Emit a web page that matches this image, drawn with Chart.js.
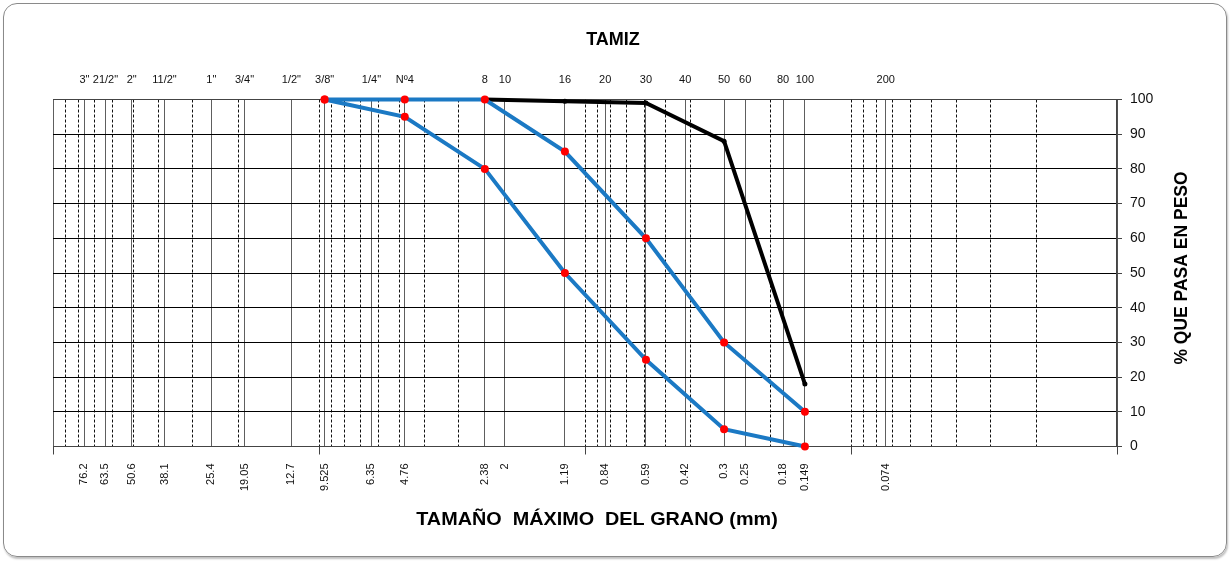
<!DOCTYPE html>
<html lang="es">
<head>
<meta charset="utf-8">
<title>Curva granulométrica</title>
<script src="https://cdn.jsdelivr.net/npm/chart.js@4.4.1/dist/chart.umd.min.js"></script>
<style>
  html, body { margin: 0; padding: 0; background: #ffffff; }
  #wrap { position: relative; width: 1231px; height: 562px; overflow: hidden; }
  #frame {
    position: absolute; left: 3px; top: 3px; width: 1222px; height: 552px;
    border: 1px solid #8a8a8a; border-radius: 14px;
    box-shadow: 1px 2px 2px rgba(0, 0, 0, 0.25);
    pointer-events: none;
  }
  #chart { position: absolute; left: 0; top: 0; }
</style>
</head>
<body>
<div id="wrap">
  <div id="frame"></div>
  <canvas id="chart" width="1231" height="562"></canvas>
</div>
<script>
// Sieve openings (mm), their names and the printed size labels
const sieveSizes = [76.2, 63.5, 50.6, 38.1, 25.4, 19.05, 12.7, 9.525, 6.35, 4.76, 2.38, 2.0, 1.19, 0.84, 0.59, 0.42, 0.3, 0.25, 0.18, 0.149, 0.074];
const sieveNames = ['3"', '21/2"', '2"', '11/2"', '1"', '3/4"', '1/2"', '3/8"', '1/4"', 'Nº4', '8', '10', '16', '20', '30', '40', '50', '60', '80', '100', '200'];
const sizeLabels = ['76.2', '63.5', '50.6', '38.1', '25.4', '19.05', '12.7', '9.525', '6.35', '4.76', '2.38', '2', '1.19', '0.84', '0.59', '0.42', '0.3', '0.25', '0.18', '0.149', '0.074'];

// Gradation band limits (% passing)
const bandSizes = [9.525, 4.76, 2.38, 1.19, 0.59, 0.3, 0.149];
const upperLimit = [100, 100, 100, 85, 60, 30, 10];
const lowerLimit = [100, 95, 80, 50, 25, 5, 0];

// Sample gradation (% passing)
const sampleSizes = [2.38, 1.19, 0.59, 0.3, 0.149];
const samplePassing = [100, 99.5, 99, 88, 18];

// Percent axis ticks
const percentTicks = [0, 10, 20, 30, 40, 50, 60, 70, 80, 90, 100];

// Axis range (mm), largest on the left
const sizeMin = 0.01;
const sizeMax = 100;

// Log-cycle subdivisions (1..9 x 10^n) for the dashed grid
const cycleTicks = [];
for (let e = -2; e <= 1; e++) {
  for (let m = 1; m <= 9; m++) cycleTicks.push(+(m * Math.pow(10, e)).toPrecision(3));
}
cycleTicks.push(sizeMax);
const isDecade = v => Math.abs(Math.log10(v) - Math.round(Math.log10(v))) < 1e-9;

// Bottom axis: frame edges plus every sieve opening
const bottomTicks = [sizeMax, ...sieveSizes, sizeMin];
const bottomLabels = ['', ...sizeLabels, ''];

const FONT = '"Liberation Sans", Arial, Helvetica, sans-serif';
const BLUE = '#1b79c4';
const RED = '#ff0000';

const toPoints = (xs, ys) => xs.map((x, i) => ({ x, y: ys[i] }));

// Axis captions (slightly widened lettering)
const captions = {
  id: 'captions',
  afterDraw(chart) {
    const { ctx, chartArea: a } = chart;
    const caption = (text, x, y, size, stretch, angle) => {
      ctx.save();
      ctx.translate(x, y);
      if (angle) ctx.rotate(angle);
      ctx.scale(stretch, 1);
      ctx.font = 'bold ' + size + 'px ' + FONT;
      ctx.fillStyle = '#000';
      ctx.textAlign = 'center';
      ctx.textBaseline = 'middle';
      ctx.fillText(text, 0, 0);
      ctx.restore();
    };
    caption('TAMIZ', a.left + 560, 40, 18, 1.0, 0);
    caption('TAMAÑO  MÁXIMO  DEL GRANO (mm)', a.left + 544, 520, 18, 1.1, 0);
    caption('% QUE PASA EN PESO', a.right + 65, (a.top + a.bottom) / 2 - 5, 17.5, 1.0, -Math.PI / 2);
  }
};

new Chart(document.getElementById('chart'), {
  type: 'line',
  data: {
    datasets: [
      {
        label: 'Límite superior',
        data: toPoints(bandSizes, upperLimit),
        borderColor: BLUE, borderWidth: 4,
        pointRadius: 4, pointBackgroundColor: RED, pointBorderWidth: 0,
        tension: 0, clip: false, xAxisID: 'x', yAxisID: 'y'
      },
      {
        label: 'Límite inferior',
        data: toPoints(bandSizes, lowerLimit),
        borderColor: BLUE, borderWidth: 4,
        pointRadius: 4, pointBackgroundColor: RED, pointBorderWidth: 0,
        tension: 0, clip: false, xAxisID: 'x', yAxisID: 'y'
      },
      {
        label: 'Muestra',
        data: toPoints(sampleSizes, samplePassing),
        borderColor: '#000', borderWidth: 4,
        pointRadius: 2.5, pointBackgroundColor: '#000', pointBorderWidth: 0,
        tension: 0, clip: false, xAxisID: 'x', yAxisID: 'y'
      }
    ]
  },
  options: {
    responsive: false,
    animation: false,
    devicePixelRatio: 1,
    layout: { padding: { left: 53, right: 0, top: 0, bottom: 0 } },
    plugins: { legend: { display: false }, title: { display: false }, tooltip: { enabled: false } },
    scales: {
      xCycle: {
        type: 'logarithmic', position: 'bottom', weight: 0,
        reverse: true, min: sizeMin, max: sizeMax,
        afterBuildTicks: s => { s.ticks = cycleTicks.map(v => ({ value: v })); },
        afterFit: s => { s.height = 0; },
        ticks: { display: false },
        grid: {
          color: c => (c.tick && (c.tick.value === sizeMin || c.tick.value === sizeMax)) ? 'rgba(0,0,0,0)' : '#111',
          lineWidth: 1,
          drawTicks: true, tickLength: 8,
          tickColor: c => (c.tick && isDecade(c.tick.value)) ? '#444' : 'rgba(0,0,0,0)'
        },
        border: { display: false, dash: [3, 2] }
      },
      x: {
        type: 'logarithmic', position: 'bottom', weight: 1,
        reverse: true, min: sizeMin, max: sizeMax,
        afterBuildTicks: s => { s.ticks = bottomTicks.map(v => ({ value: v })); },
        afterFit: s => { s.height = 115.5; },
        ticks: {
          autoSkip: false, minRotation: 90, maxRotation: 90, padding: 17,
          color: '#111', font: { family: FONT, size: 11 },
          callback: (v, i) => bottomLabels[i]
        },
        grid: { color: '#5e5e5e', lineWidth: 1, drawTicks: false },
        border: { display: true, color: '#444', width: 1 }
      },
      xTop: {
        type: 'logarithmic', position: 'top',
        reverse: true, min: sizeMin, max: sizeMax,
        afterBuildTicks: s => { s.ticks = sieveSizes.map(v => ({ value: v })); },
        afterFit: s => { s.height = 99.5; },
        ticks: {
          autoSkip: false, minRotation: 0, maxRotation: 0, padding: 13,
          color: '#111', font: { family: FONT, size: 11 },
          callback: (v, i) => sieveNames[i]
        },
        grid: { display: false, drawTicks: false, drawOnChartArea: false },
        border: { display: true, color: '#444', width: 1 }
      },
      y: {
        position: 'right',
        min: 0, max: 100,
        afterBuildTicks: s => { s.ticks = percentTicks.map(v => ({ value: v })); },
        afterFit: s => { s.width = 114; },
        ticks: { padding: 8, color: '#111', font: { family: FONT, size: 14 } },
        grid: { color: '#000', lineWidth: 1, drawTicks: true, tickLength: 5, tickColor: '#444' },
        border: { display: true, color: '#444', width: 1.5 }
      }
    }
  },
  plugins: [captions]
});
</script>
</body>
</html>
